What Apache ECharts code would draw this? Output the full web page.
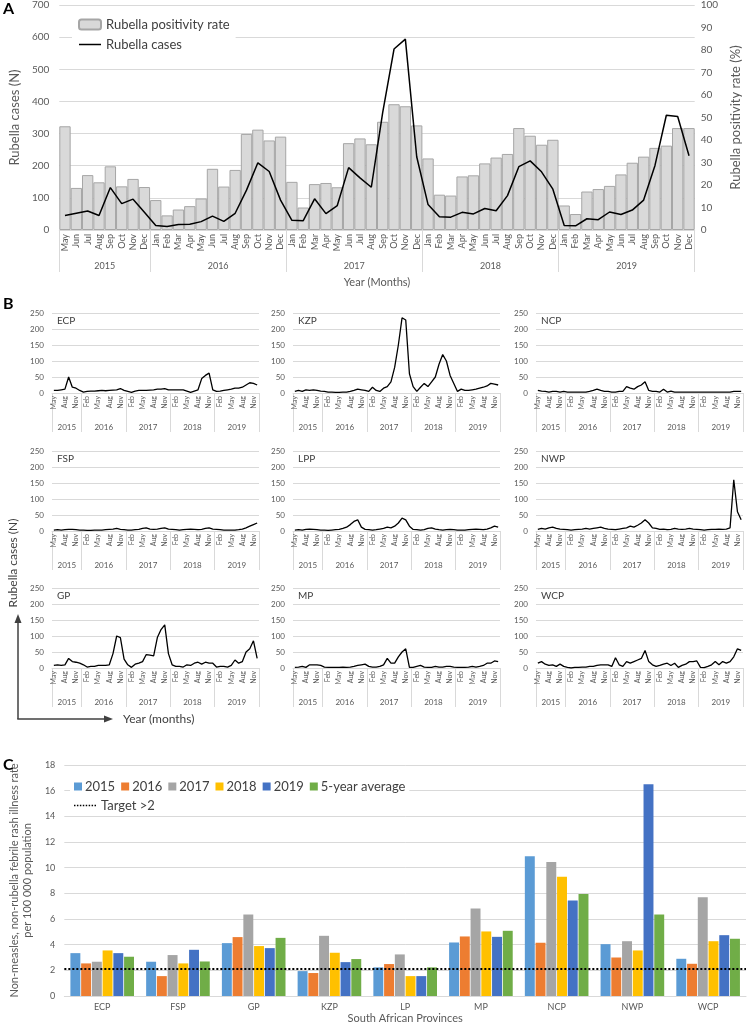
<!DOCTYPE html>
<html>
<head>
<meta charset="utf-8">
<script src="https://cdn.jsdelivr.net/npm/echarts@6/dist/echarts.min.js"></script>
<style>html,body{margin:0;padding:0;background:#fff}#chart{width:750px;height:1029px}</style>
</head>
<body>
<div id="chart"></div>
<script>
// ---------------- DATA ----------------
const monthAbbr = ['Jan','Feb','Mar','Apr','May','Jun','Jul','Aug','Sep','Oct','Nov','Dec'];
const years = ['2015','2016','2017','2018','2019'];
const firstMonthIndex = 4; // series start in May 2015

// Panel A: national
const positivityRate = [
  46.1, 18.7, 24.4, 21.2, 28.3, 19.4, 22.7, 19.1,
  13.3, 6.5, 9.1, 10.6, 14.0, 27.2, 19.3, 26.7, 42.7, 44.6, 39.8, 41.5,
  21.4, 10.0, 20.4, 20.9, 19.0, 38.6, 40.7, 38.1, 48.1, 55.9, 55.0, 46.5,
  31.8, 15.7, 15.3, 23.8, 24.3, 29.6, 32.2, 33.8, 45.3, 41.9, 37.9, 40.1,
  10.9, 7.1, 17.1, 18.2, 19.6, 24.7, 29.9, 32.6, 36.5, 37.5, 45.3, 45.3
];
const rubellaCases = [
  45, 52, 59, 45, 132, 82, 96, 55,
  14, 11, 17, 18, 26, 43, 27, 52, 124, 209, 182, 93,
  30, 29, 97, 51, 76, 194, 162, 133, 365, 563, 594, 228,
  79, 41, 40, 55, 50, 67, 60, 107, 197, 215, 181, 127,
  14, 13, 35, 32, 56, 48, 62, 93, 201, 357, 353, 231
];

// Panel B: provinces (cases per month)
const ecpCases = [
  8, 8, 10, 12, 50, 18, 15, 8,
  3, 5, 6, 6, 7, 8, 7, 8, 9, 10, 14, 8,
  5, 2, 6, 8, 8, 8, 9, 10, 12, 12, 14, 10,
  10, 10, 10, 10, 6, 2, 6, 10, 45, 55, 62, 10,
  5, 6, 8, 10, 12, 15, 15, 18, 25, 32, 30, 25
];
const kzpCases = [
  5, 8, 5, 10, 8, 10, 8, 6,
  5, 3, 3, 2, 2, 3, 3, 5, 8, 12, 10, 8,
  5, 18, 8, 5, 15, 20, 35, 80, 150, 235, 228, 60,
  20, 5, 18, 30, 20, 35, 50, 90, 120, 100, 55, 30,
  5, 12, 8, 8, 10, 12, 15, 18, 22, 30, 28, 25
];
const ncpCases = [
  8, 6, 5, 3, 5, 5, 3, 5,
  3, 3, 3, 3, 3, 3, 5, 8, 12, 8, 5, 5,
  3, 3, 5, 5, 20, 15, 12, 20, 25, 35, 8, 5,
  5, 3, 12, 3, 6, 3, 3, 3, 3, 3, 3, 3,
  3, 3, 3, 3, 3, 3, 3, 3, 3, 5, 5, 5
];
const fspCases = [
  3, 4, 3, 4, 5, 5, 4, 3,
  3, 2, 2, 3, 3, 3, 4, 5, 6, 8, 5, 4,
  3, 3, 4, 5, 8, 10, 6, 5, 6, 8, 10, 6,
  5, 4, 3, 4, 5, 6, 5, 4, 5, 8, 10, 6,
  5, 4, 3, 3, 3, 3, 4, 6, 10, 15, 20, 25
];
const lppCases = [
  3, 4, 3, 5, 6, 5, 4, 3,
  3, 2, 3, 4, 5, 8, 12, 20, 30, 35, 12, 5,
  4, 3, 4, 6, 8, 12, 10, 15, 25, 40, 35, 15,
  5, 4, 3, 4, 8, 10, 6, 4, 3, 4, 5, 4,
  3, 3, 3, 4, 5, 6, 5, 4, 6, 10, 15, 12
];
const nwpCases = [
  5, 8, 6, 10, 12, 8, 6, 5,
  4, 3, 4, 5, 6, 8, 6, 8, 10, 12, 8, 6,
  5, 4, 6, 8, 10, 15, 12, 18, 25, 35, 25, 10,
  8, 5, 6, 4, 5, 8, 6, 5, 6, 8, 6, 5,
  4, 3, 4, 5, 5, 6, 5, 6, 10, 160, 60, 35
];
const gpCases = [
  8, 10, 8, 10, 30, 20, 18, 15,
  10, 3, 5, 5, 8, 8, 8, 10, 45, 100, 95, 28,
  10, 2, 12, 15, 20, 42, 40, 38, 95, 120, 135, 45,
  10, 5, 5, 3, 10, 8, 15, 18, 12, 18, 15, 15,
  3, 5, 5, 3, 8, 25, 15, 20, 50, 60, 85, 30
];
const mpCases = [
  2, 3, 5, 2, 10, 10, 10, 8,
  3, 2, 2, 2, 2, 3, 2, 3, 5, 8, 10, 12,
  5, 3, 3, 5, 10, 30, 15, 15, 35, 50, 60, 2,
  2, 5, 8, 3, 2, 2, 5, 3, 3, 5, 5, 3,
  2, 2, 2, 3, 5, 3, 5, 8, 15, 15, 22, 20
];
const wcpCases = [
  15, 20, 12, 8, 10, 5, 12, 5,
  2, 0, 2, 2, 3, 3, 5, 5, 8, 10, 10, 10,
  5, 32, 10, 5, 20, 15, 20, 25, 30, 55, 20, 10,
  5, 8, 12, 15, 8, 15, 2, 8, 12, 20, 20, 22,
  2, 1, 5, 10, 20, 10, 20, 15, 20, 35, 60, 55
];
const provinceNamesB = ['ECP','KZP','NCP','FSP','LPP','NWP','GP','MP','WCP'];
const provinceCasesB = [ecpCases, kzpCases, ncpCases, fspCases, lppCases, nwpCases, gpCases, mpCases, wcpCases];

// Panel C: NMNRFRI rate per 100 000
const provincesC = ['ECP','FSP','GP','KZP','LP','MP','NCP','NWP','WCP'];
const rate2015 = [3.34, 2.67, 4.12, 1.94, 2.23, 4.17, 10.88, 4.04, 2.90];
const rate2016 = [2.54, 1.55, 4.59, 1.79, 2.49, 4.64, 4.15, 3.00, 2.51];
const rate2017 = [2.67, 3.19, 6.35, 4.69, 3.24, 6.81, 10.44, 4.27, 7.69];
const rate2018 = [3.55, 2.54, 3.89, 3.37, 1.55, 5.03, 9.30, 3.55, 4.27];
const rate2019 = [3.34, 3.60, 3.73, 2.64, 1.55, 4.61, 7.44, 16.50, 4.74];
const rateAvg  = [3.06, 2.69, 4.53, 2.88, 2.23, 5.08, 7.95, 6.35, 4.46];
const seriesNamesC = ['2015','2016','2017','2018','2019','5-year average'];
const targetRate = 2.1;

// ---------------- DERIVED ----------------
const monthLabels = [], monthYears = [];
years.forEach((y, yi) => {
  for (let m = (yi === 0 ? firstMonthIndex : 0); m < 12; m++) { monthLabels.push(monthAbbr[m]); monthYears.push(y); }
});
const yearBounds = [0], yearMids = [];
years.forEach(y => {
  const n = monthYears.filter(v => v === y).length;
  const s = yearBounds[yearBounds.length - 1];
  yearMids.push(s + n / 2);
  yearBounds.push(s + n);
});

// ---------------- STYLE ----------------
const FONT = 'Lato, "Open Sans", sans-serif';
const AX = '#595959';
const GRID = '#d9d9d9';
const colorsC = ['#5B9BD5','#ED7D31','#A5A5A5','#FFC000','#4472C4','#70AD47'];
const ICON_LINE = 'path://M0,0H44V3H0Z';
const ICON_DOTS = 'path://M0,0h3v3h-3z M6,0h3v3h-3z M12,0h3v3h-3z M18,0h3v3h-3z M24,0h3v3h-3z M30,0h3v3h-3z M36,0h3v3h-3z M42,0h3v3h-3z';

function monthAxis(gi, fontSize, interval, margin, extra) {
  return Object.assign({
    type: 'category', gridIndex: gi, position: 'bottom', data: monthLabels, boundaryGap: true,
    axisLine: { onZero: false, lineStyle: { color: GRID } }, axisTick: { show: false },
    axisLabel: { rotate: 90, interval: interval, fontSize: fontSize, color: AX, margin: margin, fontFamily: FONT }
  }, extra || {});
}
function yearAxis(gi, tickLen, margin, fontSize) {
  return {
    type: 'value', gridIndex: gi, position: 'bottom', min: 0, max: monthLabels.length,
    axisLine: { show: false, onZero: false }, splitLine: { show: false },
    axisTick: { show: true, customValues: yearBounds, length: tickLen, lineStyle: { color: GRID } },
    axisLabel: { customValues: yearMids, formatter: v => years[yearMids.indexOf(v)], margin: margin,
      fontSize: fontSize, color: AX, fontFamily: FONT }
  };
}

const grids = [], xAxes = [], yAxes = [], series = [], titles = [];

// Panel A
grids.push({ left: 51, top: 4, width: 650, height: 226 });
xAxes.push(monthAxis(0, 9, 0, 4, {
  name: 'Year (Months)', nameLocation: 'middle', nameGap: 47,
  nameTextStyle: { fontSize: 11, color: AX, fontFamily: FONT }
}));
xAxes.push(yearAxis(0, 42, 32, 9));
yAxes.push({
  type: 'value', gridIndex: 0, min: 0, max: 700, interval: 100, position: 'left',
  axisLine: { show: false, onZero: false }, axisTick: { show: false },
  splitLine: { lineStyle: { color: GRID } },
  axisLabel: { fontSize: 10, color: AX, margin: 10, fontFamily: FONT },
  name: 'Rubella cases (N)', nameLocation: 'middle', nameRotate: 90, nameGap: 31,
  nameTextStyle: { fontSize: 13, color: AX, fontFamily: FONT }
});
yAxes.push({
  type: 'value', gridIndex: 0, min: 0, max: 100, interval: 10, position: 'right',
  axisLine: { show: false, onZero: false }, axisTick: { show: false }, splitLine: { show: false },
  axisLabel: { fontSize: 10, color: AX, margin: 6, fontFamily: FONT },
  name: 'Rubella positivity rate (%)', nameLocation: 'middle', nameRotate: 90, nameGap: 31,
  nameTextStyle: { fontSize: 13, color: AX, fontFamily: FONT }
});
series.push({
  name: 'Rubella positivity rate', type: 'bar', xAxisIndex: 0, yAxisIndex: 1, data: positivityRate,
  barWidth: '100%', itemStyle: { color: '#d9d9d9', borderColor: '#a6a6a6', borderWidth: 1 }, silent: true
});
series.push({
  name: 'Rubella cases', type: 'line', xAxisIndex: 0, yAxisIndex: 0, data: rubellaCases,
  symbol: 'none', lineStyle: { color: '#000', width: 1.5 }, itemStyle: { color: '#000' }, silent: true
});

// Panel B
const colLeft = [52, 293, 536], colWidth = 207;
const rowTop = [313, 451, 588], rowHeight = 80;
provinceNamesB.forEach((name, k) => {
  const r = Math.floor(k / 3), c = k % 3, gi = 1 + k;
  grids.push({ left: colLeft[c], top: rowTop[r], width: colWidth, height: rowHeight });
  const xi = xAxes.length;
  xAxes.push(monthAxis(gi, 7, 2, 3));
  xAxes.push(yearAxis(gi, 39, 30, 8));
  const yi = yAxes.length;
  yAxes.push({
    type: 'value', gridIndex: gi, min: 0, max: 250, interval: 50,
    axisLine: { show: false, onZero: false }, axisTick: { show: false },
    splitLine: { lineStyle: { color: GRID } },
    axisLabel: { fontSize: 8, color: AX, margin: 8, fontFamily: FONT }
  });
  series.push({
    name: name, type: 'line', xAxisIndex: xi, yAxisIndex: yi, data: provinceCasesB[k],
    symbol: 'none', lineStyle: { color: '#000', width: 1.3 }, silent: true
  });
  titles.push({
    text: name, left: colLeft[c] + 5, top: rowTop[r] + 3, padding: 0,
    textStyle: { fontSize: 10, fontWeight: 'normal', color: '#404040', fontFamily: FONT }
  });
});

// Panel C
const giC = grids.length;
grids.push({ left: 58, top: 765, width: 688, height: 231 });
const xiC = xAxes.length;
xAxes.push({
  type: 'category', gridIndex: giC, data: provincesC,
  axisLine: { onZero: false, lineStyle: { color: GRID } }, axisTick: { show: false },
  axisLabel: { fontSize: 9, color: AX, margin: 7, fontFamily: FONT },
  name: 'South African Provinces', nameLocation: 'middle', nameGap: 17,
  nameTextStyle: { fontSize: 11, color: AX, fontFamily: FONT }
});
const yiC = yAxes.length;
yAxes.push({
  type: 'value', gridIndex: giC, min: 0, max: 18, interval: 2,
  axisLine: { show: false, onZero: false }, axisTick: { show: false },
  splitLine: { lineStyle: { color: GRID } },
  axisLabel: { fontSize: 9, color: AX, margin: 9, fontFamily: FONT },
  name: 'Non-measles, non-rubella febrile rash illness rate\nper 100 000 population',
  nameLocation: 'middle', nameRotate: 90, nameGap: 22,
  nameTextStyle: { fontSize: 11, color: '#595959', fontFamily: FONT, lineHeight: 13 }
});
[rate2015, rate2016, rate2017, rate2018, rate2019, rateAvg].forEach((arr, i) => {
  series.push({
    name: seriesNamesC[i], type: 'bar', xAxisIndex: xiC, yAxisIndex: yiC, data: arr,
    barGap: '8%', barCategoryGap: '16%', itemStyle: { color: colorsC[i] }, silent: true
  });
});
series.push({
  name: 'Target >2', type: 'line', xAxisIndex: xiC, yAxisIndex: yiC, data: [],
  symbol: 'none', lineStyle: { color: '#000', type: 'dotted', width: 2 }, itemStyle: { color: '#000' },
  markLine: {
    silent: true, symbol: ['none', 'none'], label: { show: false },
    lineStyle: { color: '#000', type: 'dotted', width: 2 },
    data: [{ yAxis: targetRate }]
  }
});

const option = {
  animation: false,
  backgroundColor: '#fff',
  textStyle: { fontFamily: FONT },
  title: titles,
  grid: grids,
  xAxis: xAxes,
  yAxis: yAxes,
  legend: [
    {
      data: ['Rubella positivity rate', { name: 'Rubella cases', icon: ICON_LINE }],
      orient: 'vertical', left: 72, top: 15, symbolKeepAspect: true,
      itemWidth: 22, itemHeight: 10, itemGap: 7, backgroundColor: '#fff', padding: [3, 6],
      textStyle: { fontSize: 13, color: '#404040', fontFamily: FONT }, selectedMode: false
    },
    {
      data: seriesNamesC, orient: 'horizontal', left: 70, top: 778, icon: 'rect',
      itemWidth: 8, itemHeight: 8, itemGap: 6, backgroundColor: '#fff', padding: [2, 4],
      textStyle: { fontSize: 13, color: '#404040', fontFamily: FONT, padding: [0, 0, 0, -2] }, selectedMode: false
    },
    {
      data: [{ name: 'Target >2', icon: ICON_DOTS }], orient: 'horizontal', left: 70, top: 797,
      symbolKeepAspect: true,
      itemWidth: 22, itemHeight: 10, backgroundColor: '#fff', padding: [2, 4],
      textStyle: { fontSize: 13, color: '#404040', fontFamily: FONT }, selectedMode: false
    }
  ],
  graphic: [
    { type: 'text', left: 3, top: 1, style: { text: 'A', font: 'bold 16px ' + FONT, fill: '#000' } },
    { type: 'text', left: 3, top: 296, style: { text: 'B', font: 'bold 16px ' + FONT, fill: '#000' } },
    { type: 'text', left: 3, top: 757, style: { text: 'C', font: 'bold 16px ' + FONT, fill: '#000' } },
    { type: 'text', x: 13, y: 563, rotation: Math.PI / 2,
      style: { text: 'Rubella cases (N)', x: 0, y: 0, textAlign: 'center', textVerticalAlign: 'middle',
        font: '12px ' + FONT, fill: '#404040' } },
    { type: 'line', shape: { x1: 18, y1: 719, x2: 18, y2: 622 }, style: { stroke: '#404040', lineWidth: 1.5 } },
    { type: 'polygon', shape: { points: [[18, 614], [14.5, 623], [21.5, 623]] }, style: { fill: '#404040' } },
    { type: 'line', shape: { x1: 17.25, y1: 719, x2: 105, y2: 719 }, style: { stroke: '#404040', lineWidth: 1.5 } },
    { type: 'polygon', shape: { points: [[113, 719], [104, 715.5], [104, 722.5]] }, style: { fill: '#404040' } },
    { type: 'text', x: 123, y: 719,
      style: { text: 'Year (months)', x: 0, y: 0, textAlign: 'left', textVerticalAlign: 'middle',
        font: '12px ' + FONT, fill: '#404040' } }
  ],
  series: series
};

const chart = echarts.init(document.getElementById('chart'), null, { renderer: 'canvas' });
chart.setOption(option);
</script>
</body>
</html>
